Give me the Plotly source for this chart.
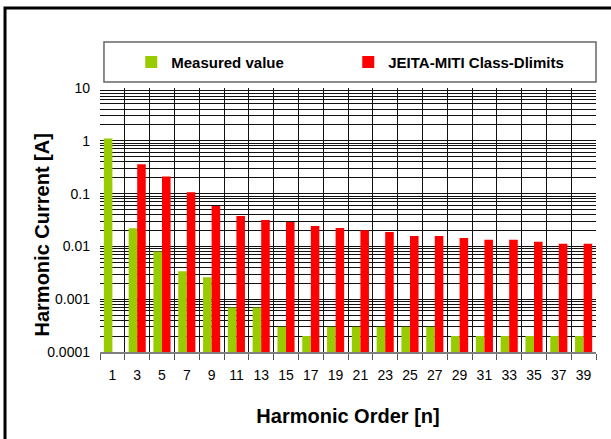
import plotly.graph_objects as go

harmonic_order = ["1", "3", "5", "7", "9", "11", "13", "15", "17", "19",
                  "21", "23", "25", "27", "29", "31", "33", "35", "37", "39"]
measured_value = [1.1, 0.022, 0.008, 0.0034, 0.0026, 0.0007, 0.0007, 0.0003, 0.0002, 0.0003,
                  0.0003, 0.0003, 0.0003, 0.0003, 0.0002, 0.0002, 0.0002, 0.0002, 0.0002, 0.0002]
class_d_limits = [None, 0.36, 0.21, 0.106, 0.058, 0.0376, 0.0316, 0.029, 0.0244, 0.0224,
                  0.0202, 0.0188, 0.0158, 0.0158, 0.0145, 0.0133, 0.0133, 0.0122, 0.0112, 0.0112]
decade_labels = ["0.0001", "0.001", "0.01", "0.1", "1", "10"]

FONT = "Liberation Sans, Arial, sans-serif"

# log gridlines: every 1..9 x 10^k, labels only on decades
grid_vals, grid_text = [], []
for k, lab in enumerate(decade_labels):
    base = 10.0 ** (k - 4)
    grid_vals.append(base)
    grid_text.append(lab)
    if k < len(decade_labels) - 1:
        for m in range(2, 10):
            grid_vals.append(base * m)
            grid_text.append("")

fig = go.Figure()
fig.add_trace(go.Bar(x=harmonic_order, y=measured_value, name="Measured value",
                     marker=dict(color="#99CC00", line=dict(width=0))))
fig.add_trace(go.Bar(x=harmonic_order, y=class_d_limits, name="JEITA-MITI Class-Dlimits",
                     marker=dict(color="#FF0000", line=dict(width=0))))

fig.update_layout(
    width=611, height=439,
    margin=dict(l=100, r=15, t=88, b=87),
    paper_bgcolor="white", plot_bgcolor="white",
    font=dict(family=FONT, color="black", size=14),
    barmode="group", bargap=0.31, bargroupgap=0,
    showlegend=True,
    legend=dict(orientation="h", x=0.063, xanchor="left", y=1.098, yanchor="middle",
                bgcolor="rgba(0,0,0,0)", borderwidth=0,
                font=dict(size=15, family=FONT, weight="bold"),
                entrywidth=172, entrywidthmode="pixels", itemwidth=30),
    xaxis=dict(type="category", tickson="boundaries", showgrid=True, gridcolor="#111", gridwidth=1,
               showline=True, linecolor="#808080", linewidth=2,
               ticks="outside", ticklen=6, tickcolor="#555", tickwidth=1,
               ticklabelstandoff=9, tickfont=dict(size=14),
               title=dict(text="Harmonic Order [n]", font=dict(size=20, weight="bold"), standoff=27)),
    yaxis=dict(type="log", range=[-4, 1], tickmode="array", tickvals=grid_vals, ticktext=grid_text,
               showgrid=True, gridcolor="#111", gridwidth=1, zeroline=False,
               showline=False, ticks="", ticklabelstandoff=9, tickfont=dict(size=14)),
    annotations=[
        dict(text="<b>Harmonic Current [A]</b>", xref="paper", yref="paper",
             x=-0.117, y=0.445, xanchor="center", yanchor="middle", textangle=-90,
             showarrow=False, font=dict(size=20)),
    ],
    shapes=[
        dict(type="rect", xref="paper", yref="paper", x0=0.008, x1=1.0, y0=1.0227, y1=1.1742,
             line=dict(color="#666", width=1.5), fillcolor="rgba(0,0,0,0)", layer="below"),
        dict(type="rect", xref="paper", yref="paper", x0=-0.1915, x1=1.2, y0=-0.6, y1=1.303,
             line=dict(color="black", width=3), fillcolor="rgba(0,0,0,0)"),
    ],
)

# the page's default body margin would push the figure 8px off the window
fig.write_html("out.html", config={"displayModeBar": False},
               post_script="document.body.style.margin='0';")
